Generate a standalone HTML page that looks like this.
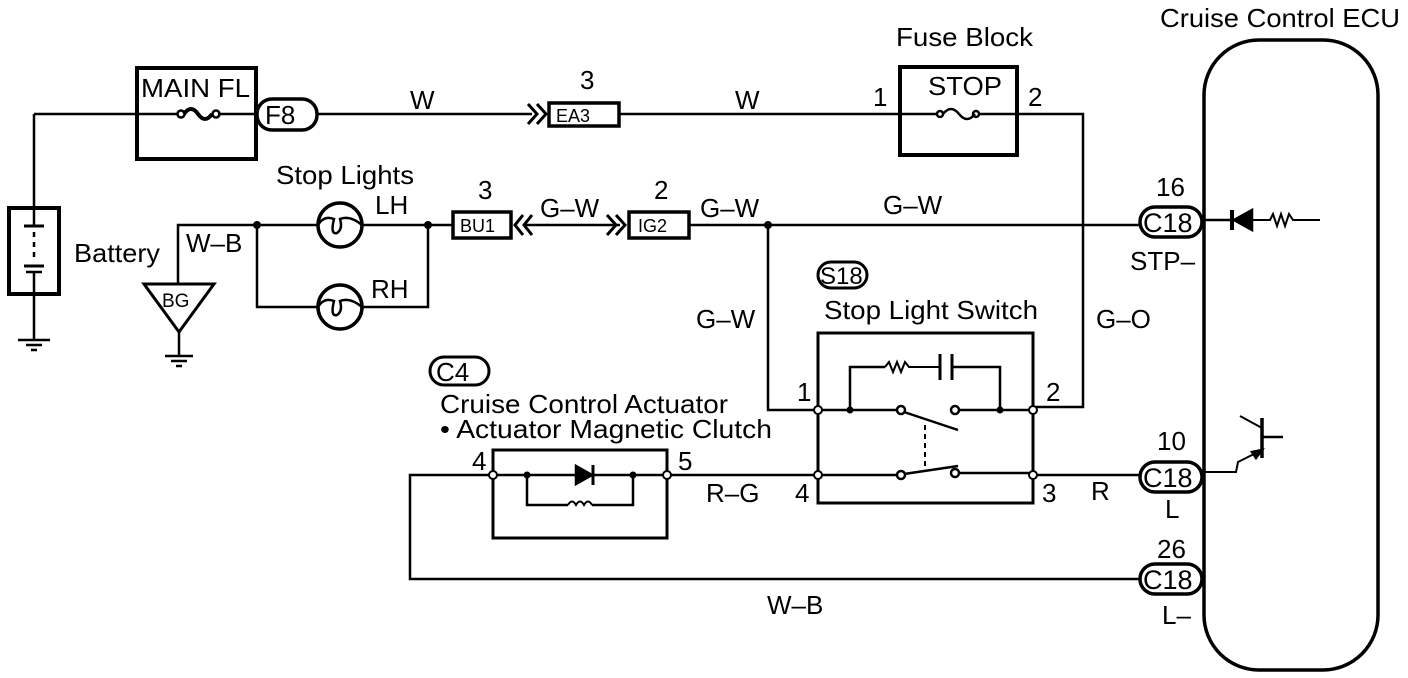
<!DOCTYPE html>
<html><head><meta charset="utf-8"><style>
html,body{margin:0;padding:0;background:#fff;}
svg{display:block;}
text{font-family:"Liberation Sans",Arial,sans-serif;fill:#000;}
</style></head><body>
<svg width="1408" height="678" viewBox="0 0 1408 678" xmlns="http://www.w3.org/2000/svg">
<g fill="none" stroke="#000" stroke-width="2.5">
<rect x="9" y="208" width="50" height="86" stroke-width="4"/>
<line x1="34" y1="114" x2="34" y2="208"/>
<line x1="34" y1="114" x2="137" y2="114"/>
<line x1="24" y1="226" x2="44" y2="226" stroke-width="3"/>
<line x1="34" y1="232" x2="34" y2="262" stroke-dasharray="5,5"/>
<line x1="24" y1="266" x2="44" y2="266" stroke-width="3"/>
<line x1="26" y1="272" x2="42" y2="272"/>
<line x1="34" y1="226" x2="34" y2="208"/>
<line x1="34" y1="272" x2="34" y2="340"/>
<line x1="18" y1="340" x2="50" y2="340"/>
<line x1="26" y1="345" x2="42" y2="345"/>
<line x1="31" y1="350" x2="37" y2="350"/>
<rect x="137" y="68" width="119" height="91" stroke-width="4"/>
<line x1="137" y1="114" x2="178" y2="114"/>
<line x1="218" y1="114" x2="256" y2="114"/>
<circle cx="181" cy="114" r="3.5"/><circle cx="216" cy="114" r="3.5"/>
<path d="M184 114 q7 -10 14 0 t14 0" stroke-width="4"/>
<rect x="257" y="99" width="60" height="31" rx="15" stroke-width="3.5"/>
<line x1="317" y1="114" x2="532" y2="114"/>
<path d="M528 104 l9 10 l-9 10 M537 104 l9 10 l-9 10" stroke-width="3"/>
<rect x="549" y="103" width="70" height="23" stroke-width="3.5"/>
<line x1="619" y1="114" x2="900" y2="114"/>
<rect x="900" y="67" width="117" height="88" stroke-width="4"/>
<line x1="900" y1="114" x2="937" y2="114"/>
<line x1="979" y1="114" x2="1017" y2="114"/>
<circle cx="940" cy="114" r="3"/><circle cx="976" cy="114" r="3"/>
<path d="M943 114 q8 -10 16 0 t16 0"/>
<polyline points="1017,114 1083,114 1083,407 1033,407"/>
<polyline points="178,284 178,225 318,225"/>
<polyline points="362,225 453,225"/>
<polyline points="257,225 257,307 318,307"/>
<polyline points="362,307 428,307 428,225"/>
<circle cx="340" cy="225" r="22" stroke-width="3.5"/>
<circle cx="340" cy="307" r="22" stroke-width="3.5"/>
<path d="M318 225 q6 -10 16 -6 q-4 16 3 14 q6 -4 3 -14 q10 -4 22 6"/>
<path d="M318 307 q6 -10 16 -6 q-4 16 3 14 q6 -4 3 -14 q10 -4 22 6"/>
<polygon points="144,284 214,284 179,332" stroke-width="3"/>
<line x1="179" y1="332" x2="179" y2="355"/>
<line x1="165" y1="356" x2="193" y2="356"/>
<line x1="171" y1="361" x2="187" y2="361"/>
<line x1="176" y1="366" x2="182" y2="366"/>
<rect x="453" y="212" width="58" height="26" stroke-width="3.5"/>
<path d="M523 215 l-8 10 l8 10 M532 215 l-8 10 l8 10" stroke-width="3"/>
<line x1="524" y1="225" x2="620" y2="225"/>
<path d="M607 215 l9 10 l-9 10 M616 215 l9 10 l-9 10" stroke-width="3"/>
<rect x="629" y="212" width="60" height="26" stroke-width="3.5"/>
<line x1="689" y1="225" x2="1140" y2="225"/>
<polyline points="768,225 768,410 818,410"/>
<rect x="1140" y="207" width="62" height="30" rx="15" stroke-width="3.5"/>
<rect x="1140" y="462" width="62" height="30" rx="15" stroke-width="3.5"/>
<rect x="1140" y="564" width="62" height="30" rx="15" stroke-width="3.5"/>
<rect x="1204" y="40" width="174" height="630" rx="55" stroke-width="3.5"/>
<line x1="1202" y1="220" x2="1232" y2="220"/>
<polygon points="1252,210 1252,230 1234,220" fill="#000"/>
<line x1="1232" y1="210" x2="1232" y2="230" stroke-width="4"/>
<polyline points="1252,220 1270,220 1273,214 1277,226 1281,214 1285,226 1289,214 1293,220 1320,220" stroke-width="2"/>
<line x1="1262" y1="418" x2="1262" y2="458" stroke-width="3.5"/>
<line x1="1262" y1="437" x2="1283" y2="437"/>
<line x1="1262" y1="428" x2="1240" y2="416" stroke-width="2"/>
<polyline points="1202,472 1236,472 1238,462 1262,450" stroke-width="2"/>
<polygon points="1262,450 1252,452 1256,458" fill="#000"/>
<rect x="818" y="262" width="49" height="26" rx="13" stroke-width="3"/>
<rect x="818" y="333" width="215" height="170" stroke-width="3"/>
<line x1="818" y1="410" x2="897" y2="410"/>
<line x1="959" y1="410" x2="1033" y2="410"/>
<polyline points="850,410 850,367 885,367"/>
<polyline points="885,367 889,362 893,372 897,362 901,372 905,362 909,367 940,367" stroke-width="2"/>
<line x1="940" y1="354" x2="940" y2="380" stroke-width="3"/>
<line x1="952" y1="354" x2="952" y2="380" stroke-width="3"/>
<polyline points="952,367 1000,367 1000,410"/>
<circle cx="901" cy="410" r="4" fill="#fff"/><circle cx="955" cy="410" r="4" fill="#fff"/>
<line x1="904" y1="412" x2="958" y2="430"/>
<line x1="925" y1="425" x2="925" y2="470" stroke-dasharray="5,4" stroke-width="2"/>
<line x1="818" y1="475" x2="897" y2="475"/>
<line x1="959" y1="473" x2="1033" y2="473"/>
<circle cx="901" cy="475" r="4" fill="#fff"/><circle cx="955" cy="473" r="4" fill="#fff"/>
<line x1="904" y1="474" x2="958" y2="466"/>
<line x1="818" y1="480" x2="1033" y2="480" stroke="none"/>
<line x1="1033" y1="475" x2="1140" y2="475"/>
<polyline points="493,475 493,538 667,538 667,450 493,450 493,475" stroke-width="3"/>
<line x1="493" y1="475" x2="576" y2="475"/>
<line x1="592" y1="475" x2="818" y2="475"/>
<polygon points="576,466 576,484 592,475" fill="#000"/>
<line x1="593" y1="465" x2="593" y2="485" stroke-width="3"/>
<polyline points="527,475 527,505 568,505"/>
<path d="M568 505 q4 -7 8 0 q4 -7 8 0 q4 -7 8 0" stroke-width="2"/>
<polyline points="592,505 633,505 633,475"/>
<polyline points="493,475 410,475 410,579 1140,579"/>
<rect x="430" y="357" width="59" height="28" rx="14" stroke-width="3"/>
</g>
<g fill="#000">
<circle cx="257" cy="225" r="4"/><circle cx="428" cy="225" r="4"/><circle cx="768" cy="225" r="4"/>
<circle cx="850" cy="410" r="3.5"/><circle cx="1000" cy="410" r="3.5"/>
<circle cx="527" cy="475" r="3.5"/><circle cx="633" cy="475" r="3.5"/>
</g>
<g fill="#fff" stroke="#000" stroke-width="2">
<circle cx="818" cy="410" r="4"/><circle cx="1033" cy="410" r="4"/>
<circle cx="818" cy="475" r="4"/><circle cx="1033" cy="475" r="4"/>
<circle cx="493" cy="475" r="4"/><circle cx="667" cy="475" r="4"/>
</g>
<g font-size="26">
<text x="1160" y="27" textLength="240" lengthAdjust="spacingAndGlyphs">Cruise Control ECU</text>
<text x="896" y="46" textLength="137" lengthAdjust="spacingAndGlyphs">Fuse Block</text>
<text x="928" y="95" textLength="74" lengthAdjust="spacingAndGlyphs">STOP</text>
<text x="873" y="106">1</text>
<text x="1028" y="106">2</text>
<text x="141" y="97" textLength="109" lengthAdjust="spacingAndGlyphs">MAIN FL</text>
<text x="265" y="124">F8</text>
<text x="410" y="109">W</text>
<text x="735" y="109">W</text>
<text x="580" y="89">3</text>
<text x="556" y="122" font-size="18">EA3</text>
<text x="276" y="184" textLength="138" lengthAdjust="spacingAndGlyphs">Stop Lights</text>
<text x="375" y="214">LH</text>
<text x="371" y="298">RH</text>
<text x="74" y="262" textLength="86" lengthAdjust="spacingAndGlyphs">Battery</text>
<text x="186" y="252">W–B</text>
<text x="162" y="307" font-size="19">BG</text>
<text x="478" y="199">3</text>
<text x="460" y="232" font-size="18">BU1</text>
<text x="540" y="217">G–W</text>
<text x="654" y="199">2</text>
<text x="638" y="232" font-size="18">IG2</text>
<text x="700" y="217">G–W</text>
<text x="883" y="214">G–W</text>
<text x="1156" y="196">16</text>
<text x="1143" y="232" font-size="27">C18</text>
<text x="1130" y="270">STP–</text>
<text x="1096" y="328">G–O</text>
<text x="696" y="328">G–W</text>
<text x="820" y="284" font-size="24">S18</text>
<text x="824" y="319" textLength="214" lengthAdjust="spacingAndGlyphs">Stop Light Switch</text>
<text x="797" y="401">1</text>
<text x="1046" y="401">2</text>
<text x="795" y="502">4</text>
<text x="1042" y="502">3</text>
<text x="1091" y="500">R</text>
<text x="706" y="502">R–G</text>
<text x="1157" y="450">10</text>
<text x="1143" y="487" font-size="27">C18</text>
<text x="1165" y="518">L</text>
<text x="1157" y="558">26</text>
<text x="1143" y="589" font-size="27">C18</text>
<text x="1162" y="624">L–</text>
<text x="767" y="614">W–B</text>
<text x="436" y="381">C4</text>
<text x="440" y="413" textLength="288" lengthAdjust="spacingAndGlyphs">Cruise Control Actuator</text>
<text x="440" y="438" textLength="332" lengthAdjust="spacingAndGlyphs">• Actuator Magnetic Clutch</text>
<text x="472" y="470">4</text>
<text x="678" y="470">5</text>
</g>
</svg>
</body></html>
